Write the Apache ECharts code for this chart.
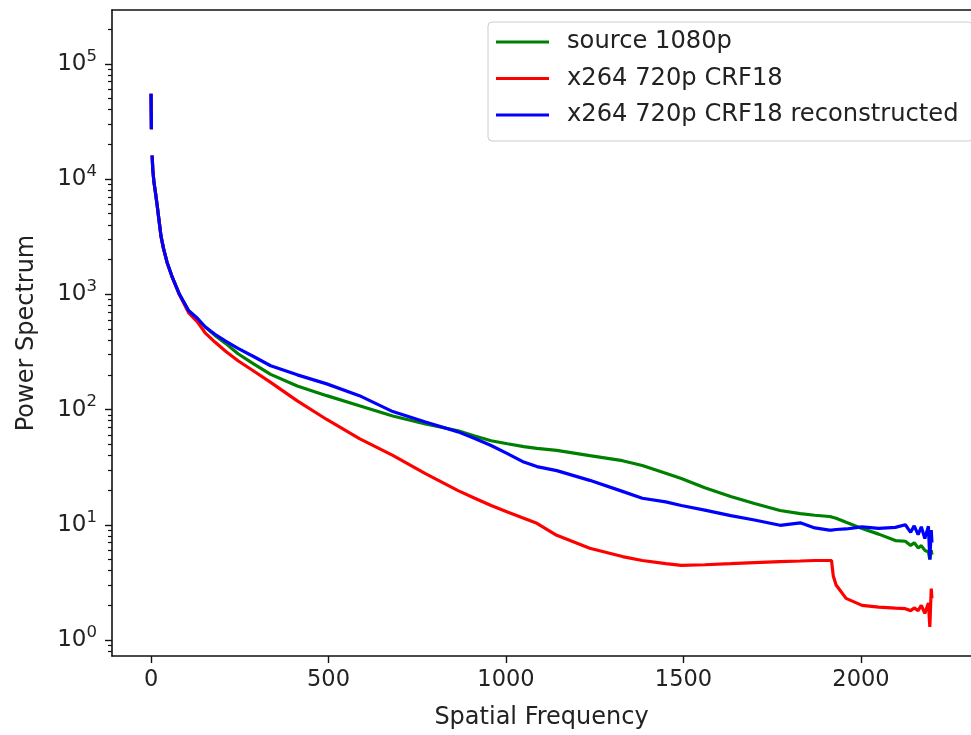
<!DOCTYPE html>
<html><head><meta charset="utf-8">
<script src="https://cdn.jsdelivr.net/npm/echarts@6/dist/echarts.min.js"></script>
<style>html,body{margin:0;padding:0;background:#fff}#c{width:971px;height:735px}</style>
</head><body><div id="c"></div>
<script>
// ---- data ----
const freq = [0, 1, 2, 3, 5, 8, 12, 17, 22, 28, 35, 45, 60, 80, 106, 130, 153, 180, 210, 245, 290, 337, 412, 495, 587, 681, 773, 865, 912, 958, 1004, 1050, 1087, 1143, 1236, 1328, 1384, 1450, 1494, 1560, 1633, 1700, 1772, 1829, 1870, 1911, 1917, 1922, 1930, 1958, 2003, 2050, 2097, 2125, 2140, 2150, 2161, 2170, 2180, 2190, 2194, 2198, 2200];

const source1080p = [55000, 27000, null, 16000, 12000, 9500, 7800, 6000, 4500, 3200, 2500, 1900, 1400, 1000, 720, 620, 520, 440, 375, 305, 248, 202, 160, 132, 108, 88, 75, 65.5, 59, 53.6, 50.5, 47.7, 46, 44.2, 39.8, 36, 32.7, 28, 25.2, 21, 17.6, 15.3, 13.3, 12.5, 12.1, 11.8, 11.7, 11.6, 11.4, 10.5, 9.3, 8.3, 7.3, 7.2, 6.6, 7.0, 6.3, 6.6, 6.0, 5.8, 5.0, 6.0, 5.5];

const crf18 = [55000, 27000, null, 16000, 12000, 9500, 7800, 6000, 4500, 3200, 2500, 1900, 1400, 990, 690, 580, 460, 385, 320, 265, 215, 172, 119, 82, 56, 40, 27.8, 19.8, 17, 14.7, 12.9, 11.4, 10.3, 8.1, 6.25, 5.3, 4.9, 4.6, 4.45, 4.5, 4.6, 4.7, 4.8, 4.85, 4.9, 4.9, 4.9, 3.6, 3.0, 2.3, 2.0, 1.93, 1.89, 1.87, 1.8, 1.9, 1.8, 2.0, 1.7, 2.1, 1.3, 2.8, 2.3];

const crf18Reconstructed = [55000, 27000, null, 16000, 12000, 9500, 7800, 6000, 4500, 3200, 2500, 1900, 1400, 1000, 720, 620, 520, 450, 392, 340, 287, 240, 200, 167, 132, 96, 78, 64, 56, 48.7, 41.5, 35, 32, 29.5, 24.3, 19.5, 17, 15.8, 14.7, 13.4, 12, 11, 9.9, 10.4, 9.4, 9, 9, 9, 9.1, 9.2, 9.6, 9.3, 9.5, 10, 8.6, 9.8, 8.2, 9.6, 7.6, 9.7, 5.0, 9.0, 7.0];

const seriesNames = ['source 1080p', 'x264 720p CRF18', 'x264 720p CRF18 reconstructed'];
const seriesColors = ['#008000', '#ff0000', '#0000ff'];
const xTickValues = [0, 500, 1000, 1500, 2000];
const yMajorValues = [1, 10, 100, 1000, 10000, 100000];
const yMinorValues = [0.8, 0.9, 2, 3, 4, 5, 6, 7, 8, 9, 20, 30, 40, 50, 60, 70, 80, 90, 200, 300, 400, 500, 600, 700, 800, 900, 2000, 3000, 4000, 5000, 6000, 7000, 8000, 9000, 20000, 30000, 40000, 50000, 60000, 70000, 80000, 90000, 200000];

// ---- chart ----
const FONT = 'DejaVu Sans';
const X_MIN = -110, X_MAX = 2310;
const Y_MIN = 0.727, Y_MAX = 293000;

const pair = arr => freq.map((f, i) => [f, arr[i]]);
const seriesData = [source1080p, crf18, crf18Reconstructed];

const chart = echarts.init(document.getElementById('c'), null, {renderer: 'canvas'});
chart.setOption({
  animation: false,
  backgroundColor: '#fff',
  grid: {left: 112, top: 10, width: 872, height: 648, containLabel: false},
  legend: {
    orient: 'vertical',
    left: 488, top: 22,
    padding: [7, 14, 13, 8],
    itemGap: 10.5,
    itemWidth: 53, itemHeight: 3,
    icon: 'rect',
    backgroundColor: '#fff',
    borderColor: '#cccccc', borderWidth: 1, borderRadius: 4,
    data: seriesNames,
    textStyle: {fontFamily: FONT, fontSize: 24.2, color: '#222', lineHeight: 26, padding: [0, 0, 0, 13]}
  },
  xAxis: [{
    type: 'value', min: X_MIN, max: X_MAX,
    name: 'Spatial Frequency', nameLocation: 'middle', nameGap: 50,
    nameTextStyle: {fontFamily: FONT, fontSize: 24, color: '#222'},
    axisLine: {show: true, onZero: false, lineStyle: {color: '#111', width: 1.6}},
    axisTick: {show: true, customValues: xTickValues, length: 7, lineStyle: {color: '#111', width: 1.4}},
    axisLabel: {customValues: xTickValues, formatter: v => String(v), fontFamily: FONT, fontSize: 22.5, color: '#222', margin: 13},
    splitLine: {show: false}
  }, {
    type: 'value', min: X_MIN, max: X_MAX, position: 'top',
    axisLine: {show: true, onZero: false, lineStyle: {color: '#111', width: 1.6}},
    axisTick: {show: false}, axisLabel: {show: false}, splitLine: {show: false}
  }],
  yAxis: [{
    type: 'log', logBase: 10, min: Y_MIN, max: Y_MAX,
    name: 'Power Spectrum', nameLocation: 'middle', nameGap: 73, nameRotate: 90,
    nameTextStyle: {fontFamily: FONT, fontSize: 24, color: '#222'},
    axisLine: {show: true, onZero: false, lineStyle: {color: '#111', width: 1.6}},
    axisTick: {show: true, customValues: yMajorValues, length: 7, lineStyle: {color: '#111', width: 1.4}},
    axisLabel: {
      customValues: yMajorValues, margin: 15,
      formatter: v => '{b|10}{s|' + Math.round(Math.log10(v)) + '}',
      rich: {
        b: {fontFamily: FONT, fontSize: 23, color: '#222', lineHeight: 32},
        s: {fontFamily: FONT, fontSize: 16.5, color: '#222', verticalAlign: 'top', lineHeight: 16}
      }
    },
    splitLine: {show: false}
  }, {
    type: 'log', logBase: 10, min: Y_MIN, max: Y_MAX, position: 'left', offset: 0,
    axisLine: {show: false, onZero: false},
    axisTick: {show: true, customValues: yMinorValues, length: 4, lineStyle: {color: '#111', width: 1.2}},
    axisLabel: {show: false}, splitLine: {show: false}
  }],
  series: seriesNames.map((name, k) => ({
    name, type: 'line', xAxisIndex: 0, yAxisIndex: 0,
    data: pair(seriesData[k]),
    color: seriesColors[k],
    showSymbol: false, symbol: 'none', connectNulls: false,
    lineStyle: {color: seriesColors[k], width: 3.2},
    z: 2 + k
  }))
});
</script></body></html>
